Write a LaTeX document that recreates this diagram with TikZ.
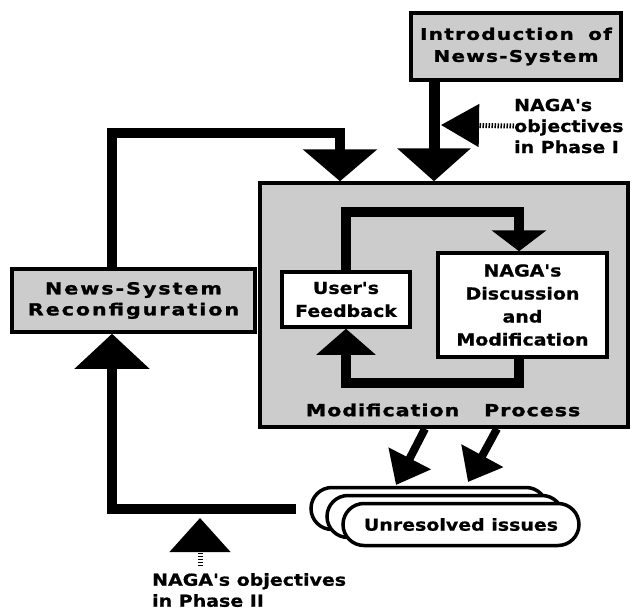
\documentclass[tikz,border=0pt]{standalone}
\usepackage{fontspec}
\usetikzlibrary{arrows.meta,shapes.misc}
\newfontfamily\lblfont[FakeStretch=1.15,FakeBold=0.8]{DejaVu Sans}
\newfontfamily\shdfont[FakeStretch=1.25,FakeBold=1.5,LetterSpace=6]{DejaVu Sans}
\tikzset{
  shbox/.style={draw, line width=3.5pt, fill=black!20, inner sep=0pt, align=center,
     font=\shdfont\bfseries\fontsize{16.5}{22}\selectfont},
  wbox/.style={draw, line width=3.5pt, fill=white, inner sep=0pt, align=center,
     font=\lblfont\bfseries\fontsize{16.5}{23}\selectfont},
  lbl/.style={inner sep=0pt, align=left, font=\lblfont\bfseries\fontsize{16.5}{21}\selectfont},
  flow/.style={line width=10pt},
  stem/.style={line width=5pt, dash pattern=on 1.5pt off 1.5pt},
  ustyle/.style={draw, line width=3.5pt, fill=white, rounded rectangle, minimum width=236pt,
     minimum height=42pt, inner sep=0pt, font=\lblfont\bfseries\fontsize{16.5}{21}\selectfont}
}
\begin{document}
\begin{tikzpicture}[x=1pt,y=-1pt]
\useasboundingbox (0,0) rectangle (633,613);

% boxes
\node[shbox, minimum width=210pt, minimum height=67pt,
  font=\shdfont\bfseries\fontsize{16}{22}\selectfont\addfontfeature{LetterSpace=8}] (intro) at (516,46.5)
  {Introduction\hspace{0.9em}of\\News-System};
\node[shbox, minimum width=368pt, minimum height=244pt] (mod) at (444,305) {};
\node[inner sep=0pt, font=\shdfont\bfseries\fontsize{16.5}{22}\selectfont]
  (modlab) at (443,410) {Modification\hspace{1.5em}Process};
\node[shbox, minimum width=243pt, minimum height=63pt,
  font=\shdfont\bfseries\fontsize{16.5}{21}\selectfont\addfontfeature{LetterSpace=12}] (recon) at (133.5,300.5)
  {News-System\\Reconfiguration};
\node[wbox, minimum width=128pt, minimum height=55pt] (fb) at (346,299.5) {User's\\Feedback};
\node[wbox, minimum width=169pt, minimum height=104pt] (naga) at (522.5,305)
  {NAGA's\\Discussion\\and\\Modification};

% unresolved issues stack
\node[ustyle] (u3) at (429,508.5) {};
\node[ustyle] (u2) at (445,516.5) {};
\node[ustyle] (u1) at (461,524.5) {Unresolved issues};

% labels
\node[lbl, anchor=west] (p1) at (514,126) {NAGA's\\objectives\\in Phase I};
\node[lbl, anchor=north west] (p2) at (152,573) {NAGA's objectives\\in Phase II};

% helper coordinates
\coordinate (xI) at (434,0);
\coordinate (xL) at (112,0);
\coordinate (yL) at (0,133);
\coordinate (xR) at (340,0);
\coordinate (xN) at (519,0);
\coordinate (yT) at (0,212);
\coordinate (yB) at (0,383);
\coordinate (p1tip) at (441,125);
\coordinate (p2tip) at (200,518);
\coordinate (p2start) at (200,566);
\coordinate (t1) at (396,485);
\coordinate (t2) at (468,482);
\coordinate (x1) at (425,0);
\coordinate (x2) at (497,0);

% connectors
\draw[flow, line width=11pt, -{Triangle[width=72pt,length=33pt]}]
  (intro.south -| xI) -- (mod.north -| xI);
\draw[flow, -{Triangle[width=73pt,length=32pt]}]
  (recon.north -| xL) |- (xR |- yL) -- (mod.north -| xR);
\draw[stem, -{Triangle[width=42pt,length=38pt]}] (p1.west) -- (p1tip);
\draw[flow, -{Triangle[width=54pt,length=21pt]}]
  (fb.north) |- (xN |- yT) -- (naga.north -| xN);
\draw[flow, -{Triangle[width=58pt,length=26pt]}]
  (naga.south -| xN) |- (fb.south |- yB) -- (fb.south);
\draw[flow, shorten <=13pt, -{Triangle[width=73pt,length=35pt]}]
  (u3.west) -| (xL |- recon.south);
\draw[stem, -{Triangle[width=60pt,length=34pt]}] (p2start) -- (p2tip);
\draw[line width=8pt, -{Triangle[width=46pt,length=30pt]}] (mod.south -| x1) -- (t1);
\draw[line width=8pt, -{Triangle[width=46pt,length=30pt]}] (mod.south -| x2) -- (t2);
\end{tikzpicture}
\end{document}
